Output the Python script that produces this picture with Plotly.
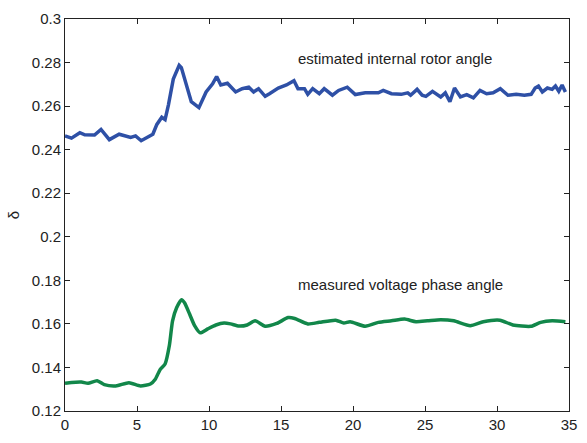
import plotly.graph_objects as go

# estimated internal rotor angle (blue)
rotor_t = [0, 0.45, 1.03, 1.37, 2.05, 2.5, 3.08, 3.76, 4.56, 4.9, 5.29, 5.81, 6.1, 6.38,
           6.72, 6.95, 7.18, 7.52, 7.93, 8.08, 8.43, 8.77, 9.3, 9.8, 10.25, 10.53, 10.82,
           11.28, 11.85, 12.3, 12.76, 13.1, 13.44, 13.9, 14.2, 14.81, 15.38, 15.9, 16.18,
           16.63, 16.86, 17.2, 17.66, 18.0, 18.57, 19.0, 19.6, 20.16, 20.85, 21.76, 22.1,
           22.67, 23.35, 23.8, 24.0, 24.45, 24.8, 25.06, 25.52, 26.09, 26.41, 26.73, 27.05,
           27.46, 27.9, 28.36, 28.82, 29.28, 29.73, 30.23, 30.76, 31.33, 31.9, 32.37, 32.65,
           32.88, 33.15, 33.5, 33.83, 34.06, 34.29, 34.52, 34.75]
rotor_delta = [0.2463, 0.2453, 0.2478, 0.2468, 0.2467, 0.2493, 0.2446, 0.2471, 0.2456, 0.2463,
               0.2441, 0.2460, 0.2471, 0.2516, 0.2549, 0.2538, 0.2605, 0.2724, 0.2787, 0.2777,
               0.2695, 0.2620, 0.2593, 0.2665, 0.2702, 0.2736, 0.2697, 0.2705, 0.2665, 0.2680,
               0.2687, 0.2665, 0.2680, 0.2645, 0.2657, 0.2683, 0.2697, 0.2717, 0.2680, 0.2680,
               0.2654, 0.2680, 0.2657, 0.2680, 0.2650, 0.2672, 0.2687, 0.2653, 0.2661, 0.2661,
               0.2672, 0.2657, 0.2654, 0.2661, 0.2650, 0.2677, 0.2650, 0.2645, 0.2668, 0.2642,
               0.2661, 0.2620, 0.2683, 0.2642, 0.2653, 0.2638, 0.2672, 0.2657, 0.2661, 0.2680,
               0.2650, 0.2654, 0.2650, 0.2654, 0.2683, 0.2692, 0.2665, 0.2683, 0.2677, 0.2692,
               0.2668, 0.2697, 0.2665]

# measured voltage phase angle (green)
volt_t = [0, 0.46, 1.14, 1.6, 2.23, 2.73, 3.53, 4.44, 5.24, 5.93, 6.27, 6.61, 6.95, 7.25,
          7.47, 7.75, 8.09, 8.3, 8.66, 9.0, 9.39, 9.91, 10.48, 11.05, 11.5, 12.08, 12.65,
          13.2, 13.9, 14.7, 15.5, 15.95, 16.86, 17.66, 18.8, 19.36, 19.8, 20.85, 21.76,
          22.67, 23.58, 24.37, 25.17, 26.09, 27.0, 28.14, 29.05, 30.2, 31.1, 32.35, 33.03,
          33.83, 34.75]
volt_delta = [0.1327, 0.1331, 0.1333, 0.1327, 0.1339, 0.1321, 0.1315, 0.1330, 0.1315, 0.1324,
              0.1346, 0.1391, 0.1416, 0.1502, 0.1614, 0.1674, 0.1711, 0.1697, 0.1644, 0.1592,
              0.1559, 0.1577, 0.1595, 0.1604, 0.1600, 0.1590, 0.1595, 0.1614, 0.1589, 0.1602,
              0.1629, 0.1625, 0.1600, 0.1607, 0.1617, 0.1604, 0.1610, 0.1589, 0.1607, 0.1614,
              0.1622, 0.1610, 0.1614, 0.1619, 0.1614, 0.1592, 0.1610, 0.1617, 0.1595, 0.1589,
              0.1607, 0.1614, 0.1610]

x_ticks = [0, 5, 10, 15, 20, 25, 30, 35]
y_ticks = [0.12, 0.14, 0.16, 0.18, 0.2, 0.22, 0.24, 0.26, 0.28, 0.3]
y_ticktext = ["0.12", "0.14", "0.16", "0.18", "0.2", "0.22", "0.24", "0.26", "0.28", "0.3"]

labels = ["estimated internal rotor angle", "measured voltage phase angle"]
label_x = [22.93, 23.27]
label_y = [0.2818, 0.178]

fig = go.Figure()
fig.add_trace(go.Scatter(x=rotor_t, y=rotor_delta, mode="lines",
                         line=dict(color="#2E50A6", width=3.5), showlegend=False))
fig.add_trace(go.Scatter(x=volt_t, y=volt_delta, mode="lines",
                         line=dict(color="#12874A", width=3.5, shape="spline", smoothing=0.6),
                         showlegend=False))

for t, lx, ly in zip(labels, label_x, label_y):
    fig.add_annotation(x=lx, y=ly, xref="x", yref="y", text=t, showarrow=False,
                       xanchor="center", yanchor="middle",
                       font=dict(family="Liberation Sans, Arial", size=15, color="#222"))

axis_common = dict(showline=True, linecolor="#222", linewidth=1, mirror="ticks",
                   ticks="inside", ticklen=5, tickcolor="#222", showgrid=False,
                   zeroline=False,
                   tickfont=dict(family="Liberation Sans, Arial", size=15, color="#222"))

fig.update_xaxes(range=[0, 35], tickvals=x_ticks, **axis_common)
fig.update_yaxes(range=[0.12, 0.3], tickvals=y_ticks, ticktext=y_ticktext,
                 title=dict(text="δ", standoff=8,
                            font=dict(family="Liberation Sans, Arial", size=15, color="#222")),
                 **axis_common)

fig.update_layout(width=587, height=443, margin=dict(l=65, r=10, t=15, b=26),
                  plot_bgcolor="white", paper_bgcolor="white")

fig.write_html("out.html")
